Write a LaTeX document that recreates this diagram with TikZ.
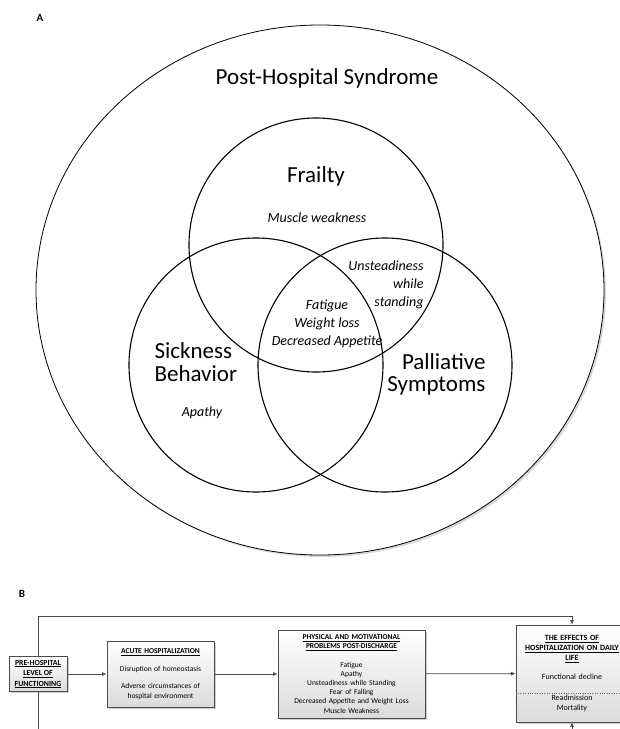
\documentclass[tikz,border=0pt]{standalone}
\usepackage{fontspec}
\setmainfont{Carlito}
\usetikzlibrary{positioning,arrows.meta,shadows,shapes.geometric}

\tikzset{
  setcircle/.style={circle, draw, line width=1.1pt, minimum size=254pt, inner sep=0pt},
  heading/.style={font=\fontsize{23}{23}\selectfont},
  symptom/.style={font=\fontsize{14}{18}\selectfont\itshape},
  stagebox/.style={draw=black!70, line width=0.7pt, top color=white, bottom color=black!14,
    drop shadow={shadow xshift=1.8pt, shadow yshift=-1.8pt, fill=black!40, opacity=.5},
    align=center, inner sep=1pt, font=\fontsize{7.5}{9.2}\selectfont},
  flow/.style={-{Latex[length=4.5pt,width=4pt]}, draw=black!70, line width=0.8pt},
}

\begin{document}
\begin{tikzpicture}[x=1pt, y=-1pt]
\clip (0,0) rectangle (620,729);

% Panel A: Venn diagram
\node[font=\bfseries\fontsize{11}{11}\selectfont] (labA) at (40,18) {A};
\node[ellipse, draw, line width=0.8pt, fill=white, minimum width=568pt, minimum height=530pt,
  drop shadow={shadow xshift=2pt, shadow yshift=-2pt, fill=black!30}] (phs) at (320,290) {};

\node[setcircle] (frailty) at (316,245) {};
\node[setcircle] (sickness) at (256,365) {};
\node[setcircle] (palliative) at (385,365) {};

\node[heading] (phslab) at (327,78) {Post-Hospital Syndrome};
\node[heading] (frailtylab) at (316,176) {Frailty};
\node[heading, align=left, anchor=west, font=\fontsize{23}{23}\selectfont] (sicklab) at (151,362) {Sickness\\Behavior};
\node[heading, align=right, anchor=east, font=\fontsize{23}{22}\selectfont] (pallab) at (489,374) {Palliative\\Symptoms};

\node[symptom] (muscle) at (317,218) {Muscle weakness};
\node[symptom, align=right, anchor=east] (unsteady) at (427,285) {Unsteadiness\\while\\standing};
\node[symptom, align=center] (core) at (327,324) {Fatigue\\Weight loss\\Decreased Appetite};
\node[symptom] (apathy) at (202,413) {Apathy};

% Panel B: flow chart
\node[font=\bfseries\fontsize{11}{11}\selectfont] (labB) at (22,594) {B};

\node[stagebox, minimum width=58pt, minimum height=35pt, font=\bfseries\fontsize{7.8}{10.5}\selectfont] (pre) at (38,674)
  {\underline{PRE-HOSPITAL}\\\underline{LEVEL OF}\\\underline{FUNCTIONING}};
\node[stagebox, minimum width=107pt, minimum height=66pt, text width=103pt] (acute) at (160.5,674)
  {\underline{\textbf{ACUTE HOSPITALIZATION}}\\[9pt] Disruption of homeostasis\\[8pt]
   Adverse circumstances of\\ hospital environment};
\node[stagebox, minimum width=147pt, minimum height=88pt, text width=143pt] (phys) at (351.5,674)
  {\underline{\textbf{PHYSICAL AND MOTIVATIONAL}}\\ \underline{\textbf{PROBLEMS POST-DISCHARGE}}\\[9pt]
   Fatigue\\ Apathy\\ Unsteadiness while Standing\\ Fear of Falling\\
   Decreased Appetite and Weight Loss\\ Muscle Weakness};
\node[stagebox, minimum width=112pt, minimum height=97pt, text width=110pt, font=\fontsize{8}{10}\selectfont] (effects) at (572,673.5)
  {\underline{\textbf{THE EFFECTS OF}}\\ \underline{\textbf{HOSPITALIZATION ON DAILY}}\\ \underline{\textbf{LIFE}}\\[9pt]
   Functional decline\\[11pt] Readmission\\ Mortality};
\draw[dotted, black!60] (effects.west |- 0,693) -- (effects.east |- 0,693);

\coordinate (top) at (0,616);
\coordinate (bottom) at (0,760);

\draw[flow] (pre) -- (acute);
\draw[flow] (acute) -- (phys);
\draw[flow] (phys) -- (effects);
\draw[flow] (pre.north) -- (pre.north |- top) -| (effects.north);
\draw[flow] (pre.south) -- (pre.south |- bottom) -| (effects.south);
\end{tikzpicture}
\end{document}
